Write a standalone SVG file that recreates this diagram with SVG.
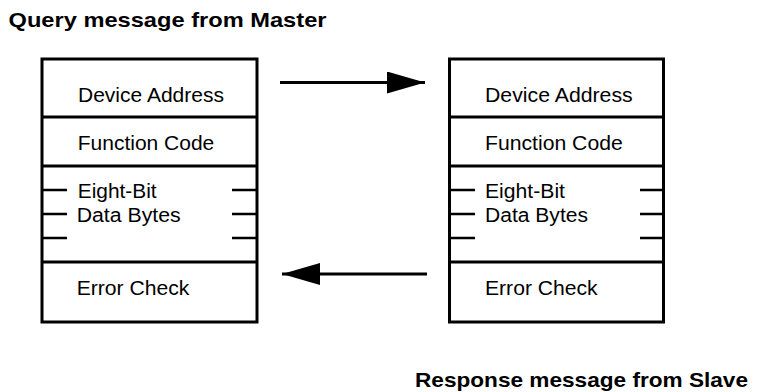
<svg xmlns="http://www.w3.org/2000/svg" width="768" height="392" viewBox="0 0 768 392">
<defs>
<style>
.box{fill:#fff;stroke:#000;stroke-width:3}
.div{stroke:#000;stroke-width:3;fill:none}
.tick{stroke:#000;stroke-width:2.5;fill:none}
.lbl{font-family:"Liberation Sans",Arial,sans-serif;font-size:20px;fill:#000}
.ttl{font-family:"Liberation Sans",Arial,sans-serif;font-size:20.5px;font-weight:bold;fill:#000}
.conn{stroke:#000;stroke-width:3;fill:none}
</style>
<marker id="ah" markerUnits="userSpaceOnUse" markerWidth="40" markerHeight="24" refX="38" refY="11" orient="auto">
<path d="M0,0 L38,11 L0,22 Z" fill="#000"/>
</marker>
</defs>
<rect width="768" height="392" fill="#fff"/>
<text class="ttl" x="8.5" y="26.7" textLength="318" lengthAdjust="spacingAndGlyphs">Query message from Master</text>
<text class="ttl" x="415" y="386.5" textLength="333" lengthAdjust="spacingAndGlyphs">Response message from Slave</text>
<g id="master">
<rect class="box" x="42" y="59" width="215" height="263"/>
<path class="div" d="M42,117H257M42,166H257M42,262H257"/>
<path class="tick" d="M42,190H67M42,214H67M42,238H67M232,190H257M232,214H257M232,238H257"/>
<text class="lbl" x="78" y="101.7" textLength="146" lengthAdjust="spacingAndGlyphs">Device Address</text>
<text class="lbl" x="77.7" y="150" textLength="136.6" lengthAdjust="spacingAndGlyphs">Function Code</text>
<text class="lbl" x="77.7" y="197.7" textLength="79" lengthAdjust="spacingAndGlyphs">Eight-Bit</text>
<text class="lbl" x="76.7" y="221.7" textLength="104" lengthAdjust="spacingAndGlyphs">Data Bytes</text>
<text class="lbl" x="76.7" y="295" textLength="112.6" lengthAdjust="spacingAndGlyphs">Error Check</text>
</g>
<g id="slave">
<rect class="box" x="449.5" y="59" width="214" height="263"/>
<path class="div" d="M449.5,117H663.5M449.5,166H663.5M449.5,262H663.5"/>
<path class="tick" d="M449.5,190H475M449.5,214H475M449.5,238H475M640,190H663.5M640,214H663.5M640,238H663.5"/>
<text class="lbl" x="485" y="101.7" textLength="147.7" lengthAdjust="spacingAndGlyphs">Device Address</text>
<text class="lbl" x="485" y="150" textLength="137.7" lengthAdjust="spacingAndGlyphs">Function Code</text>
<text class="lbl" x="485" y="197.7" textLength="80" lengthAdjust="spacingAndGlyphs">Eight-Bit</text>
<text class="lbl" x="485" y="221.7" textLength="103" lengthAdjust="spacingAndGlyphs">Data Bytes</text>
<text class="lbl" x="485" y="295" textLength="112.7" lengthAdjust="spacingAndGlyphs">Error Check</text>
</g>
<g id="connectors">
<path class="conn" d="M280,82.5H425" marker-end="url(#ah)"/>
<path class="conn" d="M427,274H282" marker-end="url(#ah)"/>
</g>
</svg>
